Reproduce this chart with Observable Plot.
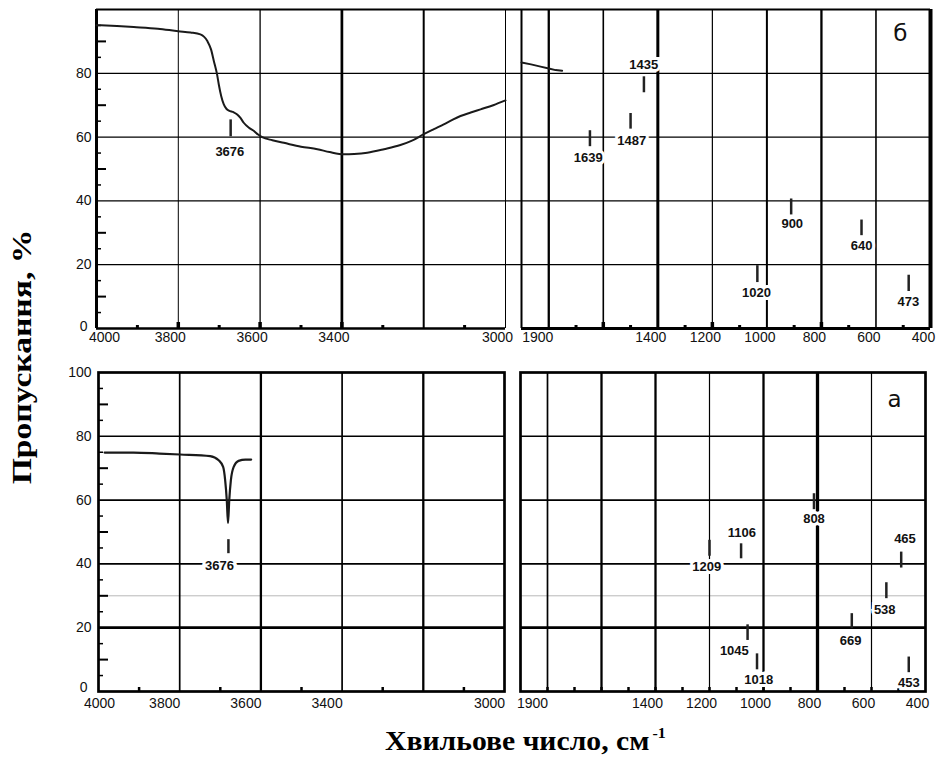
<!DOCTYPE html>
<html>
<head>
<meta charset="utf-8">
<script src="https://cdn.jsdelivr.net/npm/d3@7"></script>
<script src="https://cdn.jsdelivr.net/npm/@observablehq/plot@0.6"></script>
<style>
  body { margin: 0; background: #fff; }
  #fig { position: relative; width: 939px; height: 760px; overflow: hidden; background: #fff; }
  #fig svg { position: absolute; }
  #ytitle {
    position: absolute; left: 22px; top: 357px;
    transform: translate(-50%, -50%) rotate(-90deg) scaleX(1.2);
    font-family: "Liberation Serif", "Times New Roman", serif; font-weight: bold;
    font-size: 28px; line-height: 1; white-space: nowrap; color: #000;
  }
  #xtitle {
    position: absolute; left: 385px; top: 727px;
    transform: scaleX(1.06); transform-origin: left center;
    font-family: "Liberation Serif", "Times New Roman", serif; font-weight: bold;
    font-size: 28px; line-height: 28px; white-space: nowrap; color: #000;
  }
  #xtitle .sup { font-size: 15px; position: relative; top: -12px; margin-left: 3px; }
</style>
</head>
<body>
<div id="fig">
  <div id="ytitle">Пропускання, %</div>
  <div id="xtitle">Хвильове число, см<span class="sup">-1</span></div>
</div>
<script>
// ---------------- DATA ----------------
// Panel "б" (top), 4000–3000 cm-1 segment
const topHighWave = [4000, 3950, 3909, 3850, 3800, 3770, 3746, 3729, 3720, 3713, 3705, 3701, 3695, 3689, 3682, 3676, 3665, 3656, 3648, 3640, 3628, 3615, 3605, 3595, 3570, 3542, 3500, 3460, 3430, 3395, 3370, 3338, 3297, 3257, 3230, 3200, 3175, 3151, 3130, 3110, 3085, 3061, 3030, 3000];
const topHighT    = [95.1, 94.8, 94.5, 94.0, 93.2, 92.8, 92.2, 90.1, 87.5, 83.8, 79.5, 76.5, 72.8, 70.3, 68.8, 68.3, 67.8, 67.1, 66.0, 64.5, 63.0, 61.9, 60.8, 60.0, 59.0, 58.2, 57.0, 56.2, 55.3, 54.6, 54.7, 55.1, 56.2, 57.5, 58.8, 60.9, 62.5, 64.0, 65.4, 66.6, 67.7, 68.7, 70.0, 71.5];
// Panel "б" (top), low-frequency segment (broken axis, position scale)
const topLowWave = [1900, 1865, 1830, 1800, 1775, 1751];
const topLowT    = [83.4, 82.8, 82.1, 81.5, 81.0, 80.8];
// Panel "а" (bottom), 4000–3000 cm-1 segment
const botHighWave = [3985, 3914, 3850, 3799, 3725, 3704, 3693, 3688, 3684, 3681, 3678, 3674, 3667, 3655, 3638, 3624];
const botHighT    = [74.9, 74.9, 74.6, 74.3, 73.8, 72.5, 70.4, 66.2, 59.9, 52.8, 59.9, 66.2, 70.4, 72.3, 72.7, 72.7];

// Peak annotations: label, tick position, tick y-range, label position
const tlPeakLabel = ["3676"];
const tlPeakX = [3672];
const tlPeakY1 = [60.1];
const tlPeakY2 = [65.4];
const tlLabelX = [3674];
const tlLabelY = [55.5];

const trPeakLabel = ["1435", "1487", "1639", "900", "640", "1020", "473"];
const trPeakX  = [1451, 1500, 1649, 911, 653, 1035, 480];
const trPeakY1 = [73.9, 62.5, 57.0, 35.6, 29.1, 14.4, 11.6];
const trPeakY2 = [78.9, 67.4, 62.0, 40.6, 34.0, 19.7, 16.7];
const trLabelX = [1452, 1496, 1655, 907, 653, 1038, 481];
const trLabelY = [82.7, 58.8, 53.4, 32.9, 25.9, 11.1, 8.4];

const blPeakLabel = ["3676"];
const blPeakX = [3680];
const blPeakY1 = [43.2];
const blPeakY2 = [47.6];
const blLabelX = [3702];
const blLabelY = [39.4];

const brPeakLabel = ["808", "1106", "1209", "465", "538", "669", "1045", "1018", "453"];
const brPeakX  = [813, 1083, 1200, 490, 545, 673, 1059, 1024, 462];
const brPeakY1 = [57.0, 41.6, 42.4, 38.7, 29.1, 19.7, 16.0, 6.8, 5.9];
const brPeakY2 = [62.0, 46.3, 47.4, 43.7, 34.1, 24.4, 20.9, 11.8, 10.8];
const brLabelX = [813, 1080, 1210, 476, 551, 677, 1108, 1018, 462];
const brLabelY = [54.0, 49.7, 39.2, 47.9, 25.6, 16.0, 12.9, 3.8, 2.6];

// Axis ticks
const highTickValues = [4000, 3800, 3600, 3400, 3000];
const highTickLabels = ["4000", "3800", "3600", "3400", "3000"];
const lowTickValues  = [1800, 1400, 1200, 1000, 800, 600, 400];
const lowTickLabels  = ["1900", "1400", "1200", "1000", "800", "600", "400"];
const highGrid  = [3800, 3600, 3400, 3200];
const lowGrid   = [1800, 1600, 1400, 1200, 1000, 800, 600];
const highMajorTicks = [3800, 3600, 3400];
const lowMajorTicks  = [1600, 1200, 800];
const highMinor = [3900, 3700, 3500, 3300, 3100];
const lowMinor  = [1700, 1500, 1300, 1100, 900, 700, 500];
const yGrid = [20, 40, 60, 80];
const yFaint = [30];
const yTicksTop = [0, 20, 40, 60, 80];
const yTicksBottom = [0, 20, 40, 60, 80, 100];
const yMinorShort = [5, 15, 25, 35, 45, 55, 65, 75, 85, 95];
const yMinorLong = [10, 30, 50, 70, 90];
const panelLetters = ["б", "а"];

// ---------------- STYLE ----------------
const gridW = {
  tl: {3800: 1, 3600: 1.3, 3400: 2.7, 3200: 2},
  tr: {1800: 2.3, 1600: 1.6, 1400: 3, 1200: 1.2, 1000: 2, 800: 2.3, 600: 1.6},
  bl: {3800: 1.7, 3600: 2.3, 3400: 1.7, 3200: 2.3},
  br: {1800: 1.7, 1600: 2.3, 1400: 2.3, 1200: 1.2, 1000: 2.3, 800: 3.3, 600: 1.2}
};
const INK = "#111";
const fig = document.getElementById("fig");

function peakMarks(labels, px, y1, y2, lx, ly) {
  const idx = d3.range(labels.length);
  return [
    Plot.ruleX(idx, {x: i => px[i], y1: i => y1[i], y2: i => y2[i], stroke: "#222", strokeWidth: 2.5}),
    Plot.text(idx, {x: i => lx[i], y: i => ly[i], text: i => labels[i], fontSize: 13, fontWeight: "bold",
      fill: INK, stroke: "white", strokeWidth: 6, paintOrder: "stroke", strokeLinejoin: "miter"})
  ];
}
function xLabels(values, labels, dxFirst, dxRest, dy) {
  return [
    Plot.text([0], {x: i => values[i], text: i => labels[i], frameAnchor: "bottom", dy, dx: dxFirst, fontSize: 14, fill: INK}),
    Plot.text(d3.range(1, values.length), {x: i => values[i], text: i => labels[i], frameAnchor: "bottom", dy, dx: dxRest, fontSize: 14, fill: INK})
  ];
}
function yLabels(values, dxZero, dx, dyZero) {
  return [
    Plot.text(values.filter(v => v === 0), {y: d => d, text: d => String(d), frameAnchor: "left", textAnchor: "end", dx: dxZero, dy: dyZero, fontSize: 14, fill: INK}),
    Plot.text(values.filter(v => v !== 0), {y: d => d, text: d => String(d), frameAnchor: "left", textAnchor: "end", dx, fontSize: 14, fill: INK})
  ];
}
function place(svg, left, top) {
  svg.style.left = left + "px";
  svg.style.top = top + "px";
  fig.appendChild(svg);
}
const baseStyle = {fontFamily: "'Liberation Sans', Arial, sans-serif", fontSize: "14px", background: "transparent", overflow: "visible", color: "#000"};

// ---------------- TOP-LEFT ----------------
{
  const pw = 409, ph = 319;
  const svg = Plot.plot({
    width: 96 + pw + 20, height: 9 + ph + 30,
    marginLeft: 96, marginRight: 20, marginTop: 9, marginBottom: 30,
    x: {domain: [4000, 3000], axis: null},
    y: {domain: [0, 100], axis: null},
    style: baseStyle,
    marks: [
      Plot.ruleY(yGrid, {y: d => d, stroke: "#000", strokeWidth: 1.2, insetRight: -16}),
      Plot.ruleX(highGrid, {x: d => d, stroke: "#000", strokeWidth: d => gridW.tl[d]}),
      Plot.tickY(yMinorShort, {y: d => d, insetRight: pw - 5, strokeWidth: 1.5}),
      Plot.tickY(yMinorLong, {y: d => d, insetRight: pw - 10, strokeWidth: 2}),
      Plot.tickX(highMinor, {x: d => d, insetTop: ph - 3, strokeWidth: 3}),
      Plot.tickX(highMajorTicks, {x: d => d, insetTop: ph - 6, strokeWidth: 3.5}),
      Plot.ruleX([4000], {x: d => d, strokeWidth: 3}),
      Plot.ruleX([3000], {x: d => d, strokeWidth: 1}),
      Plot.ruleY([0], {y: d => d, strokeWidth: 2.5}),
      Plot.ruleY([100], {y: d => d, strokeWidth: 2, insetRight: -16}),
      Plot.line(d3.range(topHighWave.length), {x: i => topHighWave[i], y: i => topHighT[i], stroke: "#1a1a1a", strokeWidth: 2, curve: "monotone-x"}),
      ...peakMarks(tlPeakLabel, tlPeakX, tlPeakY1, tlPeakY2, tlLabelX, tlLabelY),
      ...xLabels(highTickValues, highTickLabels, 8, -8, 13),
      ...yLabels(yTicksTop, -9, -5, -2)
    ]
  });
  place(svg, 0, 0);
}

// ---------------- TOP-RIGHT ----------------
{
  const pw = 409, ph = 319;
  const svg = Plot.plot({
    width: 16 + pw + 9, height: 9 + ph + 30,
    marginLeft: 16, marginRight: 9, marginTop: 9, marginBottom: 30,
    x: {domain: [1900, 400], axis: null},
    y: {domain: [0, 100], axis: null},
    style: baseStyle,
    marks: [
      Plot.ruleY(yGrid, {y: d => d, stroke: "#000", strokeWidth: 1.2}),
      Plot.ruleX(lowGrid, {x: d => d, stroke: "#000", strokeWidth: d => gridW.tr[d]}),
      Plot.tickX(lowMinor, {x: d => d, insetTop: ph - 3, strokeWidth: 3}),
      Plot.tickX(lowMajorTicks, {x: d => d, insetTop: ph - 6, strokeWidth: 3.5}),
      Plot.ruleX([1900], {x: d => d, strokeWidth: 2}),
      Plot.ruleX([400], {x: d => d, strokeWidth: 4}),
      Plot.ruleY([0], {y: d => d, strokeWidth: 3}),
      Plot.ruleY([100], {y: d => d, strokeWidth: 2}),
      Plot.line(d3.range(topLowWave.length), {x: i => topLowWave[i], y: i => topLowT[i], stroke: "#1a1a1a", strokeWidth: 2}),
      ...peakMarks(trPeakLabel, trPeakX, trPeakY1, trPeakY2, trLabelX, trLabelY),
      ...xLabels(lowTickValues, lowTickLabels, -11, -7, 13),
      Plot.text([panelLetters[0]], {text: d => d, frameAnchor: "top-right", dx: -23, dy: 15, fontSize: 23, fontFamily: "'DejaVu Sans', sans-serif", fill: INK})
    ]
  });
  place(svg, 505, 0);
}

// ---------------- BOTTOM-LEFT ----------------
{
  const pw = 406, ph = 319;
  const svg = Plot.plot({
    width: 98 + pw + 12, height: 12 + ph + 30,
    marginLeft: 98, marginRight: 12, marginTop: 12, marginBottom: 30,
    x: {domain: [4000, 3000], axis: null},
    y: {domain: [0, 100], axis: null},
    style: baseStyle,
    marks: [
      Plot.ruleY(yFaint, {y: d => d, stroke: "#b8b8b8", strokeWidth: 1}),
      Plot.ruleY(yGrid, {y: d => d, stroke: "#000", strokeWidth: d => d === 20 ? 2.7 : 1.6}),
      Plot.ruleX(highGrid, {x: d => d, stroke: "#000", strokeWidth: d => gridW.bl[d]}),
      Plot.tickY(yMinorShort, {y: d => d, insetRight: pw - 5, strokeWidth: 1.5}),
      Plot.tickY(yMinorLong, {y: d => d, insetRight: pw - 10, strokeWidth: 2}),
      Plot.tickX(highMinor, {x: d => d, insetTop: ph - 4, strokeWidth: 2.5}),
      Plot.frame({stroke: "#000", strokeWidth: 2.7}),
      Plot.line(d3.range(botHighWave.length), {x: i => botHighWave[i], y: i => botHighT[i], stroke: "#1a1a1a", strokeWidth: 2.2, curve: "monotone-x"}),
      ...peakMarks(blPeakLabel, blPeakX, blPeakY1, blPeakY2, blLabelX, blLabelY),
      ...xLabels(highTickValues, highTickLabels, 1, -15, 16),
      ...yLabels(yTicksBottom, -11, -7, -4)
    ]
  });
  place(svg, 0, 360);
}

// ---------------- BOTTOM-RIGHT ----------------
{
  const pw = 405, ph = 319;
  const svg = Plot.plot({
    width: 10 + pw + 14, height: 12 + ph + 30,
    marginLeft: 10, marginRight: 14, marginTop: 12, marginBottom: 30,
    x: {domain: [1900, 400], axis: null},
    y: {domain: [0, 100], axis: null},
    style: baseStyle,
    marks: [
      Plot.ruleY(yFaint, {y: d => d, stroke: "#b8b8b8", strokeWidth: 1}),
      Plot.ruleY(yGrid, {y: d => d, stroke: "#000", strokeWidth: d => d === 20 ? 2.7 : 1.6}),
      Plot.ruleX(lowGrid, {x: d => d, stroke: "#000", strokeWidth: d => gridW.br[d]}),
      Plot.tickX(lowMinor.concat(lowGrid), {x: d => d, insetTop: ph - 4, strokeWidth: 2.5}),
      Plot.frame({stroke: "#000", strokeWidth: 2.7}),
      ...peakMarks(brPeakLabel, brPeakX, brPeakY1, brPeakY2, brLabelX, brLabelY),
      ...xLabels(lowTickValues, lowTickLabels, -15, -8, 16),
      Plot.text([panelLetters[1]], {text: d => d, frameAnchor: "top-right", dx: -24, dy: 18, fontSize: 23, fontFamily: "'DejaVu Sans', sans-serif", fill: INK})
    ]
  });
  place(svg, 510, 360);
}
</script>
</body>
</html>
